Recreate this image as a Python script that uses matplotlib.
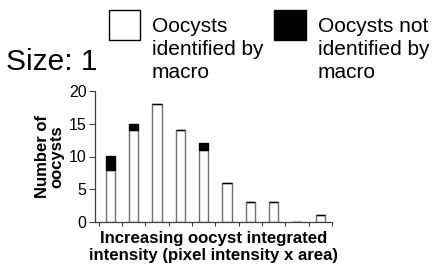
import matplotlib
matplotlib.use("Agg")
import matplotlib.pyplot as plt
from matplotlib.patches import Rectangle
import numpy as np

plt.rcParams['font.family'] = ['Liberation Sans', 'DejaVu Sans']

categories = list(range(10))
identified = [8, 14, 18, 14, 11, 6, 3, 3, 0, 1]
not_identified = [2, 1, 0, 0, 1, 0, 0, 0, 0, 0]
yticks = [0, 5, 10, 15, 20]

W, H = 434, 268
fig = plt.figure(figsize=(W/100, H/100), dpi=100)
ax = fig.add_axes([95/W, 1-222/H, (332-95)/W, (222-91)/H])

x = np.array(categories)
bw = 0.4
ax.bar(x, identified, width=bw, color='white', edgecolor='#707070', linewidth=1.0)
ax.bar(x, not_identified, bottom=identified, width=bw, color='black', edgecolor='black', linewidth=1.0)

ax.set_xlim(-0.66, 9.5)
ax.set_ylim(0, 20)
ax.set_yticks(yticks)
ax.set_yticklabels([str(v) for v in yticks], fontsize=11.5)
ax.set_xticks(np.arange(-0.5, 9.6, 1.0))
ax.set_xticklabels([])
ax.tick_params(axis='y', direction='out', length=4, width=0.8, colors='#404040', labelcolor='black', pad=2)
ax.tick_params(axis='x', direction='out', length=3, width=0.8, colors='#404040')
for s in ['top', 'right']:
    ax.spines[s].set_visible(False)
for s in ['left', 'bottom']:
    ax.spines[s].set_color('#404040')
    ax.spines[s].set_linewidth(0.9)

ax.set_ylabel('Number of\noocysts', fontsize=12, fontweight='bold', labelpad=3, linespacing=1.0)
ax.set_xlabel('Increasing oocyst integrated\nintensity (pixel intensity x area)', fontsize=12.1,
              fontweight='bold', labelpad=0, linespacing=1.15)

fig.text(6/W, 1-70/H, 'Size: 1', fontsize=21.5, ha='left', va='baseline')

fig.patches.append(Rectangle((109/W, 1-40/H), 31/W, 30/H, transform=fig.transFigure,
                             facecolor='white', edgecolor='black', linewidth=1.0))
fig.patches.append(Rectangle((274/W, 1-40/H), 32/W, 30/H, transform=fig.transFigure,
                             facecolor='black', edgecolor='black', linewidth=1.0))
fig.text(152/W, 1-16.5/H, 'Oocysts\nidentified by\nmacro', fontsize=15, ha='left', va='top',
         linespacing=1.3, multialignment='left')
fig.text(318/W, 1-16.5/H, 'Oocysts not\nidentified by\nmacro', fontsize=15, ha='left', va='top',
         linespacing=1.3, multialignment='left')

fig.savefig('out.png', dpi=100)
